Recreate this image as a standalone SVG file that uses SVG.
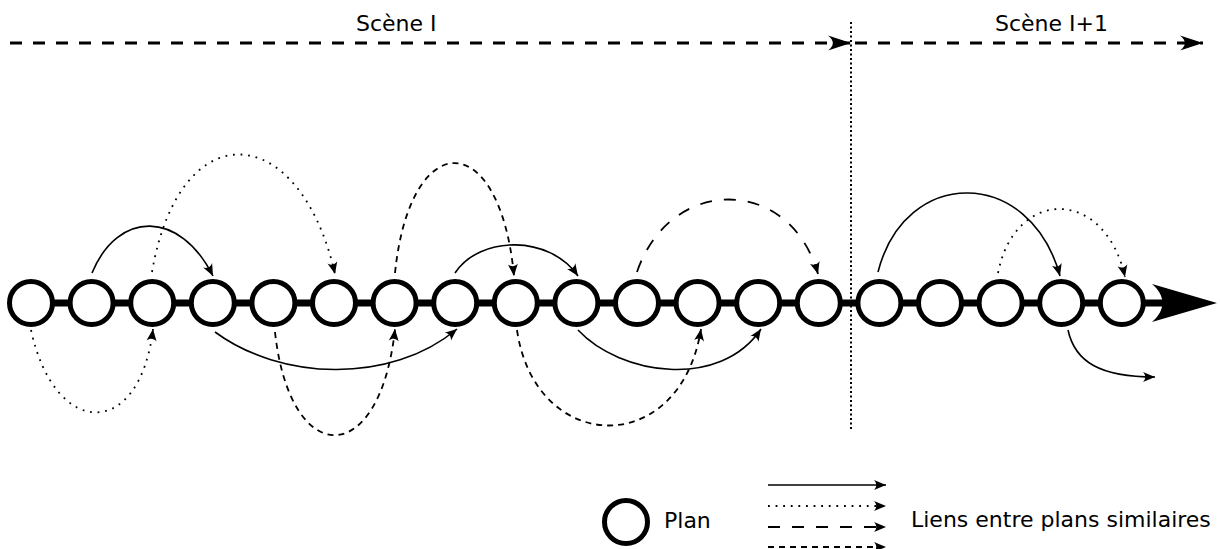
<svg xmlns="http://www.w3.org/2000/svg" width="1220" height="549" viewBox="0 0 1220 549">
<style>
text{font-family:"DejaVu Sans","Noto Sans",sans-serif;font-size:22px;fill:#000}
.plan{fill:#fff;stroke:#000;stroke-width:5}
.lk{fill:none;stroke:#000}
.solid{stroke-width:1.6}
.dot{stroke-width:1.8;stroke-dasharray:1.8 5.8}
.dash{stroke-width:1.8;stroke-dasharray:12 12}
.sdash{stroke-width:1.8;stroke-dasharray:6 5}
.top{fill:none;stroke:#000;stroke-width:3;stroke-dasharray:12 11}
</style>
<defs>
<marker id="arr" markerUnits="userSpaceOnUse" viewBox="-13 -6 15 12" refX="0" refY="0" markerWidth="15" markerHeight="12" orient="auto">
<path d="M0,0 L-12,-5 C-9,-1.7 -9,1.7 -12,5 Z" fill="#000"/>
</marker>
<marker id="big" markerUnits="userSpaceOnUse" viewBox="-25 -9 27 18" refX="0" refY="0" markerWidth="27" markerHeight="18" orient="auto">
<path d="M0,0 L-23,-7.5 C-16.5,-2.5 -16.5,2.5 -23,7.5 Z" fill="#000"/>
</marker>
</defs>

<g id="scenes">
<text x="356" y="31">Scène I</text>
<text x="995" y="31">Scène I+1</text>
<path class="top" d="M10,43 H851" marker-end="url(#big)"/>
<path class="top" d="M855,43 H1203" marker-end="url(#big)"/>
<path d="M851,22 V430" fill="none" stroke="#000" stroke-width="2" stroke-dasharray="2 2.5"/>
</g>

<g id="timeline">
<path d="M31,303 H1168" stroke="#000" stroke-width="7" fill="none"/>
<path d="M1217,303 L1152,284 C1166,296 1166,310 1152,322 Z" fill="#000"/>
</g>

<g id="plans">
<circle id="p0" class="plan" cx="31" cy="303" r="21.5"/>
<circle id="p1" class="plan" cx="91.6" cy="303" r="21.5"/>
<circle id="p2" class="plan" cx="152.2" cy="303" r="21.5"/>
<circle id="p3" class="plan" cx="212.8" cy="303" r="21.5"/>
<circle id="p4" class="plan" cx="273.4" cy="303" r="21.5"/>
<circle id="p5" class="plan" cx="334" cy="303" r="21.5"/>
<circle id="p6" class="plan" cx="394.6" cy="303" r="21.5"/>
<circle id="p7" class="plan" cx="455.2" cy="303" r="21.5"/>
<circle id="p8" class="plan" cx="515.8" cy="303" r="21.5"/>
<circle id="p9" class="plan" cx="576.4" cy="303" r="21.5"/>
<circle id="p10" class="plan" cx="637" cy="303" r="21.5"/>
<circle id="p11" class="plan" cx="697.6" cy="303" r="21.5"/>
<circle id="p12" class="plan" cx="758.2" cy="303" r="21.5"/>
<circle id="p13" class="plan" cx="818.8" cy="303" r="21.5"/>
<circle id="p14" class="plan" cx="879.4" cy="303" r="21.5"/>
<circle id="p15" class="plan" cx="940" cy="303" r="21.5"/>
<circle id="p16" class="plan" cx="1000.6" cy="303" r="21.5"/>
<circle id="p17" class="plan" cx="1061.2" cy="303" r="21.5"/>
<circle id="p18" class="plan" cx="1121.8" cy="303" r="21.5"/>
</g>

<g id="connectors">
<path class="lk solid" d="M92,273 C118,210 180,210 213,276" marker-end="url(#arr)"/>
<path class="lk dot" d="M152,272 C180,110 300,120 335,274" marker-end="url(#arr)"/>
<path class="lk dot" d="M31,330 C55,440 140,440 153,329" marker-end="url(#arr)"/>
<path class="lk solid" d="M215,332 C280,380 390,385 457,329" marker-end="url(#arr)"/>
<path class="lk sdash" d="M275,332 C290,470 380,470 395,329" marker-end="url(#arr)"/>
<path class="lk sdash" d="M395,273 C410,126 500,126 514,276" marker-end="url(#arr)"/>
<path class="lk solid" d="M455,273 C480,235 550,235 578,276" marker-end="url(#arr)"/>
<path class="lk sdash" d="M517,330 C535,455 680,460 701,329" marker-end="url(#arr)"/>
<path class="lk solid" d="M578,330 C620,375 720,390 761,329" marker-end="url(#arr)"/>
<path class="lk dash" d="M637,272 C670,175 790,175 818,274" marker-end="url(#arr)"/>
<path class="lk solid" d="M878,272 C905,166 1030,166 1060,276" marker-end="url(#arr)"/>
<path class="lk dot" d="M998,273 C1015,187 1105,187 1125,277" marker-end="url(#arr)"/>
<path class="lk solid" d="M1068,330 C1075,362 1100,377 1155,377" marker-end="url(#arr)"/>
</g>

<g id="legend">
<circle class="plan" cx="626" cy="522" r="21.5"/>
<text x="664" y="528">Plan</text>
<path class="lk solid" d="M768,485 H886" marker-end="url(#arr)"/>
<path class="lk dot" d="M768,506 H886" marker-end="url(#arr)"/>
<path class="lk dash" d="M768,527 H886" marker-end="url(#arr)"/>
<path class="lk sdash" d="M768,547 H886" marker-end="url(#arr)"/>
<text x="911" y="527">Liens entre plans similaires</text>
</g>
</svg>
